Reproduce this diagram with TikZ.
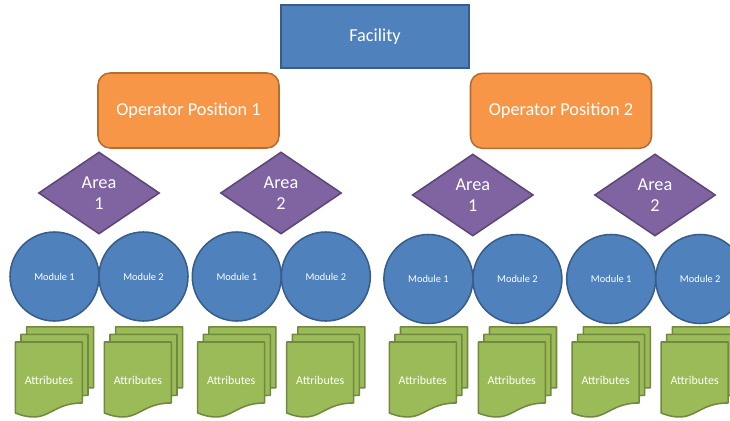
\documentclass[tikz,border=0pt]{standalone}
\usepackage{fontspec}
\setmainfont{Carlito}
\usetikzlibrary{shapes.geometric}

\definecolor{boxblue}{HTML}{4F81BD}
\definecolor{boxblueline}{HTML}{385D8A}
\definecolor{boxorange}{HTML}{F79646}
\definecolor{boxorangeline}{HTML}{B66D31}
\definecolor{boxpurple}{HTML}{8064A2}
\definecolor{boxpurpleline}{HTML}{5C4776}
\definecolor{boxgreen}{HTML}{9BBB59}
\definecolor{boxgreenline}{HTML}{71893F}

\tikzset{
	bigtext/.style={text=white, font=\fontsize{13}{15.4}\selectfont},
	facilitybox/.style={bigtext, draw=boxblueline, fill=boxblue, line width=1.1pt,
		minimum width=4.7cm, minimum height=1.575cm},
	operatorbox/.style={bigtext, draw=boxorangeline, fill=boxorange, line width=1.1pt,
		rounded corners=0.3cm, minimum width=4.525cm, minimum height=1.875cm},
	areabox/.style={bigtext, diamond, draw=boxpurpleline, fill=boxpurple, line width=1.1pt,
		aspect=1.5, inner sep=0pt, align=center, minimum width=3.025cm, minimum height=2.05cm},
	modulebox/.style={circle, draw=boxblueline, fill=boxblue, line width=1.1pt,
		minimum size=2.225cm, inner sep=0pt, text=white, font=\fontsize{7.4}{9}\selectfont},
	pagebox/.style={draw=boxgreenline, fill=boxgreen, line width=1.1pt, line join=round},
	attrlabel/.style={text=white, font=\fontsize{8.5}{10}\selectfont}
}

\begin{document}
\begin{tikzpicture}
\useasboundingbox (0, 0) rectangle (18.25, 10.5);

\node[facilitybox] (facility) at (9.375, 9.5875) {Facility};

\node[operatorbox] (op1) at (4.7125, 7.7375) {Operator Position 1};
\node[operatorbox] (op2) at (14.025, 7.73) {Operator Position 2};

\foreach \x/\y/\n [count=\i] in {2.475/5.675/1, 7.025/5.675/2, 11.82/5.625/1, 16.375/5.625/2}
	\node[areabox] (area-\i) at (\x, \y) {Area\\\n};

\foreach \c/\y/\m [count=\i] in {1.3625/3.5875/1, 3.5875/3.5875/2, 5.92/3.5875/1, 8.145/3.5875/2,
		10.71/3.525/1, 12.935/3.525/2, 15.28/3.525/1, 17.505/3.525/2} {
	\node[modulebox] (mod-\i) at (\c, \y) {Module \m};
	
	\foreach \d in {2, 1, 0}
		\draw[pagebox, shift={({\c - 0.8375 + (\d - 1)*0.14}, {1.95 + \d*0.19})}]
			(0, 0) -- (1.675, 0) -- (1.675, -1.524)
			.. controls (0.8375, -1.524) and (0.8375, -2.103) .. (0, -1.775) -- cycle;
	
	\node[attrlabel] (attr-\i) at ({\c - 0.14}, 1.0) {Attributes};
}
\end{tikzpicture}
\end{document}
